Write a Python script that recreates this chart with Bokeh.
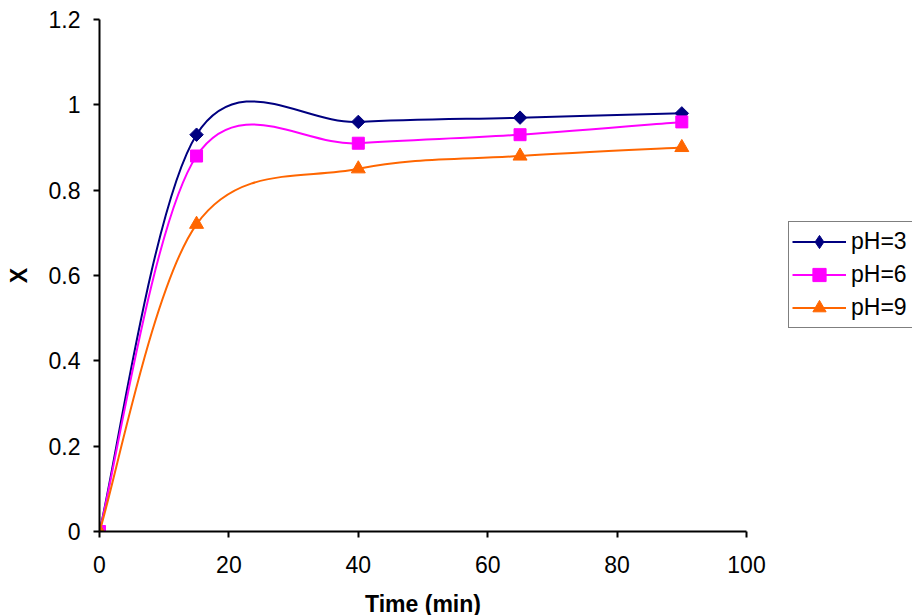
import math
from bokeh.plotting import figure
from bokeh.models import Range1d, Legend, LegendItem, FixedTicker, ColumnDataSource
from bokeh.embed import file_html
from bokeh.resources import INLINE

time_min = [0, 15, 40, 65, 90]
x_ph3 = [0, 0.93, 0.96, 0.97, 0.98]
x_ph6 = [0, 0.88, 0.91, 0.93, 0.96]
x_ph9 = [0, 0.72, 0.85, 0.88, 0.90]
series_labels = ["pH=3", "pH=6", "pH=9"]
x_ticks = [0, 20, 40, 60, 80, 100]
y_ticks = [0, 0.2, 0.4, 0.6, 0.8, 1.0, 1.2]
y_tick_labels = {0: "0", 0.2: "0.2", 0.4: "0.4", 0.6: "0.6", 0.8: "0.8", 1.0: "1", 1.2: "1.2"}

FONT = "Liberation Sans"
FS = "23px"

p = figure(width=912, height=615, output_backend="svg", toolbar_location=None,
           x_range=Range1d(0, 100), y_range=Range1d(0, 1.2),
           min_border_left=99, min_border_right=166, min_border_top=19, min_border_bottom=84)
p.frame_width = 647
p.frame_height = 512
p.outline_line_color = None
p.xgrid.grid_line_color = None
p.ygrid.grid_line_color = None
p.background_fill_color = "white"
p.border_fill_color = "white"

for ax in (p.xaxis[0], p.yaxis[0]):
    ax.axis_line_color = "black"
    ax.axis_line_width = 2
    ax.major_tick_line_color = "black"
    ax.major_tick_line_width = 2
    ax.major_tick_in = 0
    ax.major_tick_out = 6
    ax.minor_tick_line_color = None
    ax.major_label_text_font = FONT
    ax.major_label_text_font_size = FS
    ax.major_label_text_color = "black"
    ax.axis_label_text_font = FONT
    ax.axis_label_text_font_size = FS
    ax.axis_label_text_font_style = "bold"
    ax.axis_label_text_color = "black"

p.xaxis[0].ticker = FixedTicker(ticks=x_ticks)
p.yaxis[0].ticker = FixedTicker(ticks=y_ticks)
p.yaxis[0].major_label_overrides = y_tick_labels
p.xaxis[0].axis_label = "Time (min)"
p.yaxis[0].axis_label = "X"
p.xaxis[0].major_label_standoff = 18
p.xaxis[0].axis_label_standoff = 15
p.yaxis[0].major_label_standoff = 13
p.yaxis[0].axis_label_standoff = 14


def bezier_segments(xs, ys):
    n = len(xs)
    pts = list(zip(xs, ys))
    d = dict(x0=[], y0=[], x1=[], y1=[], cx0=[], cy0=[], cx1=[], cy1=[])
    for i in range(n - 1):
        p0 = pts[i - 1] if i > 0 else pts[i]
        p1 = pts[i]
        p2 = pts[i + 1]
        p3 = pts[i + 2] if i + 2 < n else pts[i + 1]
        d["x0"].append(p1[0]); d["y0"].append(p1[1])
        d["x1"].append(p2[0]); d["y1"].append(p2[1])
        d["cx0"].append(p1[0] + (p2[0] - p0[0]) / 6.0)
        d["cy0"].append(p1[1] + (p2[1] - p0[1]) / 6.0)
        d["cx1"].append(p2[0] - (p3[0] - p1[0]) / 6.0)
        d["cy1"].append(p2[1] - (p3[1] - p1[1]) / 6.0)
    return ColumnDataSource(d)


styles = [
    dict(color="#000080", marker="square", angle=math.pi / 4, size=9.5, legend_marker="diamond"),
    dict(color="#FF00FF", marker="square", angle=0, size=12, legend_marker="square"),
    dict(color="#FF6600", marker="triangle", angle=0, size=14, legend_marker="triangle"),
]
data = [x_ph3, x_ph6, x_ph9]

items = []
for label, ys, st in zip(series_labels, data, styles):
    src = bezier_segments(time_min, ys)
    br = p.bezier(x0="x0", y0="y0", x1="x1", y1="y1", cx0="cx0", cy0="cy0",
                  cx1="cx1", cy1="cy1", source=src, line_color=st["color"], line_width=2)
    # legend key marker: tiny copy under the real markers (legend keys are drawn unrotated
    # and at a size set by the legend glyph box)
    lr = p.scatter(time_min, ys, marker=st["legend_marker"], size=1,
                   fill_color=st["color"], line_color=st["color"], line_width=1)
    sr = p.scatter(time_min, ys, marker=st["marker"], angle=st["angle"], size=st["size"],
                   fill_color=st["color"], line_color=st["color"], line_width=1)
    items.append(LegendItem(label=label, renderers=[br, lr]))

legend = Legend(items=items, location=(42, 203), orientation="vertical",
                border_line_color="black", border_line_width=1,
                background_fill_color="white", background_fill_alpha=1,
                label_text_font=FONT, label_text_font_size=FS, label_text_color="black",
                glyph_width=54, glyph_height=33, label_height=33, label_width=72,
                label_standoff=5, spacing=0, padding=3, margin=0)
p.add_layout(legend, "right")

open("out.html", "w").write(file_html(p, INLINE))
